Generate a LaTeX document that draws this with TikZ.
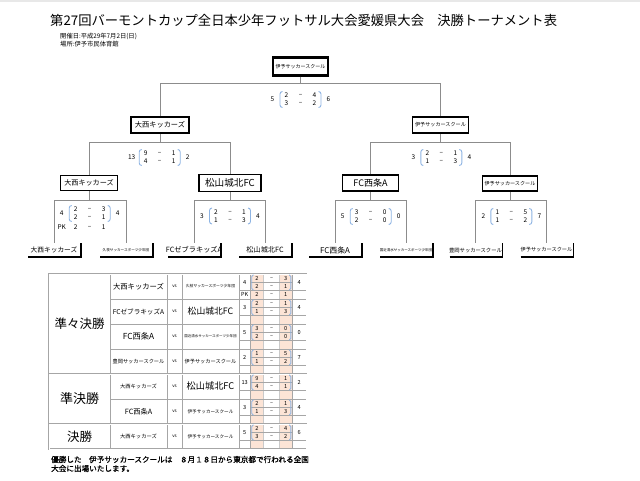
\documentclass[tikz,border=0pt]{standalone}
\usepackage{fontspec}
\setmainfont{Noto Sans CJK JP}
\newfontfamily\jpbold{Noto Sans CJK JP}[FakeBold=1.2]
\definecolor{peach}{HTML}{FCE4D6}
\definecolor{brkblue}{HTML}{8EB4E3}
\definecolor{linegray}{HTML}{8C8C8C}
\definecolor{tabgray}{HTML}{A6A6A6}
\newcommand{\fsz}[1]{\fontsize{#1pt}{#1pt}\selectfont}
\tikzset{
  win/.style={draw=black, line width=1.8pt, fill=white, inner sep=0pt},
  conn/.style={draw=linegray, line width=0.9pt},
  lbl/.style={inner sep=0pt, minimum height=14pt},
  shadowline/.style={draw=black, line width=1.6pt},
  sc/.style={inner sep=0pt, font=\fsz{6.5}},
  tsc/.style={inner sep=0pt, font=\fsz{5.6}},
  brk/.style={draw=brkblue, line width=0.9pt, rounded corners=2.5pt},
  tbrk/.style={draw=brkblue, line width=0.9pt, rounded corners=1.5pt},
  tline/.style={draw=tabgray, line width=0.5pt},
  tlight/.style={draw=tabgray!60, line width=0.4pt},
  tsec/.style={draw=tabgray, line width=0.5pt, double=white, double distance=0.9pt},
  cell/.style={inner sep=0pt}
}
% tree score block: prefix, x, y, left total, a1, b1, a2, b2, right total
\newcommand{\tscore}[9]{%
  \node[sc] (#1lt) at (#2,#3+4) {#4};
  \node[sc] (#1aa) at (#2+14,#3) {#5};
  \node[sc] (#1da) at (#2+28,#3) {–};
  \node[sc] (#1ba) at (#2+42,#3) {#6};
  \node[sc] (#1ab) at (#2+14,#3+8) {#7};
  \node[sc] (#1db) at (#2+28,#3+8) {–};
  \node[sc] (#1bb) at (#2+42,#3+8) {#8};
  \node[sc] (#1rt) at (#2+56,#3+4) {#9};
  \draw[brk] (#2+10,#3-4) -- (#2+7.5,#3-4) -- (#2+7.5,#3+12) -- (#2+10,#3+12);
  \draw[brk] (#2+46,#3-4) -- (#2+48.5,#3-4) -- (#2+48.5,#3+12) -- (#2+46,#3+12);
}
% table score block: prefix, ytop, left total, a1, b1, a2, b2, right total
\newcommand{\tabscore}[8]{%
  \node[tsc] (#1lt) at (244.7,#2+8.3) {#3};
  \node[tsc] (#1aa) at (257,#2+4.3) {#4};
  \node[tsc] (#1da) at (271.5,#2+4.3) {–};
  \node[tsc] (#1ba) at (285.7,#2+4.3) {#5};
  \node[tsc] (#1ab) at (257,#2+12.5) {#6};
  \node[tsc] (#1db) at (271.5,#2+12.5) {–};
  \node[tsc] (#1bb) at (285.7,#2+12.5) {#7};
  \node[tsc] (#1rt) at (299.2,#2+8.3) {#8};
  \draw[tbrk] (253.5,#2+1) -- (251.7,#2+1) -- (251.7,#2+16) -- (253.5,#2+16);
  \draw[tbrk] (289,#2+1) -- (290.8,#2+1) -- (290.8,#2+16) -- (289,#2+16);
}
\newcommand{\teamlabel}[4]{%
  \node[lbl, font=\fsz{#3}] (#1) at (#2,250) {#4};
  \draw[shadowline] (#2-26,257) -- (#2+27,257) -- (#2+27,243);
}
\begin{document}
\begin{tikzpicture}[x=1pt,y=-1pt]
\fill[white] (0,0) rectangle (640,480);
\useasboundingbox (0,0) rectangle (640,480);
\fill[gray!18] (0,0) rectangle (640,1.5);

% ---------- title ----------
\node[anchor=west, inner sep=0pt, font=\fsz{13.3}] (title) at (50,20.5)
  {第27回バーモントカップ全日本少年フットサル大会愛媛県大会　決勝トーナメント表};
\node[anchor=west, inner sep=0pt, font=\fsz{6.3}] (date) at (60,36.7) {開催日:平成29年7月2日(日)};
\node[anchor=west, inner sep=0pt, font=\fsz{6.3}] (place) at (60,44.3) {場所:伊予市民体育館};

% ---------- tree boxes ----------
\node[win, line width=2.2pt, minimum width=55pt, minimum height=18pt, font=\fsz{5}] (champ) at (300.5,66.5) {伊予サッカースクール};
\node[win, minimum width=58pt, minimum height=16pt, font=\fsz{7.2}] (sfL) at (160,125) {大西キッカーズ};
\node[win, minimum width=56pt, minimum height=16pt, font=\fsz{5.1}] (sfR) at (440.5,125) {伊予サッカースクール};
\node[win, minimum width=57pt, minimum height=15pt, font=\fsz{7.1}] (qf1) at (89,183) {大西キッカーズ};
\node[win, minimum width=62pt, minimum height=17pt, font=\fsz{9.6}] (qf2) at (230,183) {松山城北FC};
\node[win, minimum width=56pt, minimum height=16pt, font=\fsz{9}] (qf3) at (370.5,183) {FC西条A};
\node[win, minimum width=55pt, minimum height=15pt, font=\fsz{5.1}] (qf4) at (510,183.5) {伊予サッカースクール};

% ---------- bottom labels ----------
\teamlabel{t1}{54}{6.7}{大西キッカーズ}
\teamlabel{t2}{126}{3.6}{久枝サッカースポーツ少年団}
\teamlabel{t3}{194}{7.2}{FCゼブラキッズA}
\teamlabel{t4}{265}{7.2}{松山城北FC}
\teamlabel{t5}{335}{7.9}{FC西条A}
\teamlabel{t6}{406}{3.5}{国近清水サッカースポーツ少年団}
\teamlabel{t7}{475.5}{5.3}{豊岡サッカースクール}
\teamlabel{t8}{546.5}{5.2}{伊予サッカースクール}

% ---------- connectors ----------
\coordinate (fM) at (300.5,83);
\coordinate (fL) at (160,83);
\coordinate (fR) at (440.5,83);
\draw[conn] (champ.south) -- (fM);
\draw[conn] (sfL.north) -- (fL) -- (fR) -- (sfR.north);

\coordinate (sLm) at (160,142);
\coordinate (sLa) at (89,142);
\coordinate (sLb) at (230,142);
\draw[conn] (sfL.south) -- (sLm);
\draw[conn] (qf1.north) -- (sLa) -- (sLb) -- (qf2.north);

\coordinate (sRm) at (440.5,142);
\coordinate (sRa) at (370.5,142);
\coordinate (sRb) at (510,142);
\draw[conn] (sfR.south) -- (sRm);
\draw[conn] (qf3.north) -- (sRa) -- (sRb) -- (qf4.north);

\coordinate (q1m) at (89,200);
\coordinate (q1a) at (54,200);
\coordinate (q1b) at (126,200);
\draw[conn] (qf1.south) -- (q1m);
\draw[conn] (t1.north) -- (q1a) -- (q1b) -- (t2.north);

\coordinate (q2m) at (230,200);
\coordinate (q2a) at (194,200);
\coordinate (q2b) at (265,200);
\draw[conn] (qf2.south) -- (q2m);
\draw[conn] (t3.north) -- (q2a) -- (q2b) -- (t4.north);

\coordinate (q3m) at (370.5,200);
\coordinate (q3a) at (335,200);
\coordinate (q3b) at (406,200);
\draw[conn] (qf3.south) -- (q3m);
\draw[conn] (t5.north) -- (q3a) -- (q3b) -- (t6.north);

\coordinate (q4m) at (510,200);
\coordinate (q4a) at (475.5,200);
\coordinate (q4b) at (546.5,200);
\draw[conn] (qf4.south) -- (q4m);
\draw[conn] (t7.north) -- (q4a) -- (q4b) -- (t8.north);

% ---------- tree scores ----------
\tscore{fin}{272.5}{95.5}{5}{2}{4}{3}{2}{6}
\tscore{sl}{131.7}{153.5}{13}{9}{1}{4}{1}{2}
\tscore{sr}{413.3}{153.5}{3}{2}{1}{1}{3}{4}
\tscore{qa}{61.7}{209.5}{4}{2}{3}{2}{1}{4}
\node[sc] (qapk) at (61.7,227.5) {PK};
\node[sc] (qapa) at (75.7,227.5) {2};
\node[sc] (qapd) at (89.7,227.5) {–};
\node[sc] (qapb) at (103.7,227.5) {1};
\tscore{qb}{202}{212}{3}{2}{1}{1}{3}{4}
\tscore{qc}{342.7}{212.5}{5}{3}{0}{2}{0}{0}
\tscore{qd}{483.3}{212.5}{2}{1}{5}{1}{2}{7}

% ---------- table ----------
\fill[peach] (250.5,274) rectangle (263.5,449);
\fill[peach] (279.5,274) rectangle (292,449);
% verticals
\foreach \xx in {110,167,182,239,250.5,292}{\draw[tline] (\xx,274) -- (\xx,449);}
\foreach \xx in {263.5,279.5}{\draw[tlight] (\xx,274) -- (\xx,449);}
% match lines
\foreach \yy in {299,324,349,399}{\draw[tline] (110,\yy) -- (306.5,\yy);}
% sub-row lines
\foreach \yy in {274,299,324,349,374,399,424}{
  \draw[tline] (250.5,\yy+8.33) -- (292,\yy+8.33);
  \draw[tline] (239,\yy+16.67) -- (306.5,\yy+16.67);
}
% sections
\draw[tsec] (49,274) rectangle (306.5,449);
\draw[tsec] (49,374) -- (306.5,374);
\draw[tsec] (49,424) -- (306.5,424);

\node[cell, font=\fsz{12.5}] (secqf) at (79.5,324) {準々決勝};
\node[cell, font=\fsz{13}] (secsf) at (79.5,399) {準決勝};
\node[cell, font=\fsz{12.5}] (secf) at (79.5,436.5) {決勝};

% team names
\node[cell, font=\fsz{7.3}] (m1a) at (138.5,286.5) {大西キッカーズ};
\node[cell, font=\fsz{3.8}] (m1b) at (210.5,286.5) {久枝サッカースポーツ少年団};
\node[cell, font=\fsz{6.6}] (m2a) at (138.5,311.5) {FCゼブラキッズA};
\node[cell, font=\fsz{8.8}] (m2b) at (210.5,311.5) {松山城北FC};
\node[cell, font=\fsz{8.3}] (m3a) at (138.5,336.5) {FC西条A};
\node[cell, font=\fsz{3.5}] (m3b) at (210.5,336.5) {国近清水サッカースポーツ少年団};
\node[cell, font=\fsz{5.2}] (m4a) at (138.5,361.5) {豊岡サッカースクール};
\node[cell, font=\fsz{5.2}] (m4b) at (210.5,361.5) {伊予サッカースクール};
\node[cell, font=\fsz{5.3}] (m5a) at (138.5,386.5) {大西キッカーズ};
\node[cell, font=\fsz{9.2}] (m5b) at (210.5,386.5) {松山城北FC};
\node[cell, font=\fsz{7.2}] (m6a) at (138.5,411.5) {FC西条A};
\node[cell, font=\fsz{4.6}] (m6b) at (210.5,411.5) {伊予サッカースクール};
\node[cell, font=\fsz{5.3}] (m7a) at (138.5,436.5) {大西キッカーズ};
\node[cell, font=\fsz{4.6}] (m7b) at (210.5,436.5) {伊予サッカースクール};
\foreach \k/\yy in {1/286.5,2/311.5,3/336.5,4/361.5,5/386.5,6/411.5,7/436.5}{
  \node[cell, font=\fsz{4.5}] (vs\k) at (174.5,\yy) {vs};
}

% table scores
\tabscore{ta}{274}{4}{2}{3}{2}{1}{4}
\node[tsc] (tapk) at (244.7,294.8) {PK};
\node[tsc] (tapa) at (257,294.8) {2};
\node[tsc] (tapd) at (271.5,294.8) {–};
\node[tsc] (tapb) at (285.7,294.8) {1};
\tabscore{tb}{299}{3}{2}{1}{1}{3}{4}
\tabscore{tc}{324}{5}{3}{0}{2}{0}{0}
\tabscore{td}{349}{2}{1}{5}{1}{2}{7}
\tabscore{te}{374}{13}{9}{1}{4}{1}{2}
\tabscore{tf}{399}{3}{2}{1}{1}{3}{4}
\tabscore{tg}{424}{5}{2}{4}{3}{2}{6}

% ---------- bottom note ----------
\node[anchor=west, inner sep=0pt, font=\fsz{7.6}\jpbold] (note1) at (51,459.5)
  {優勝した　伊予サッカースクールは　８月１８日から東京都で行われる全国};
\node[anchor=west, inner sep=0pt, font=\fsz{7.6}\jpbold] (note2) at (51,468.5)
  {大会に出場いたします。};
\end{tikzpicture}
\end{document}
